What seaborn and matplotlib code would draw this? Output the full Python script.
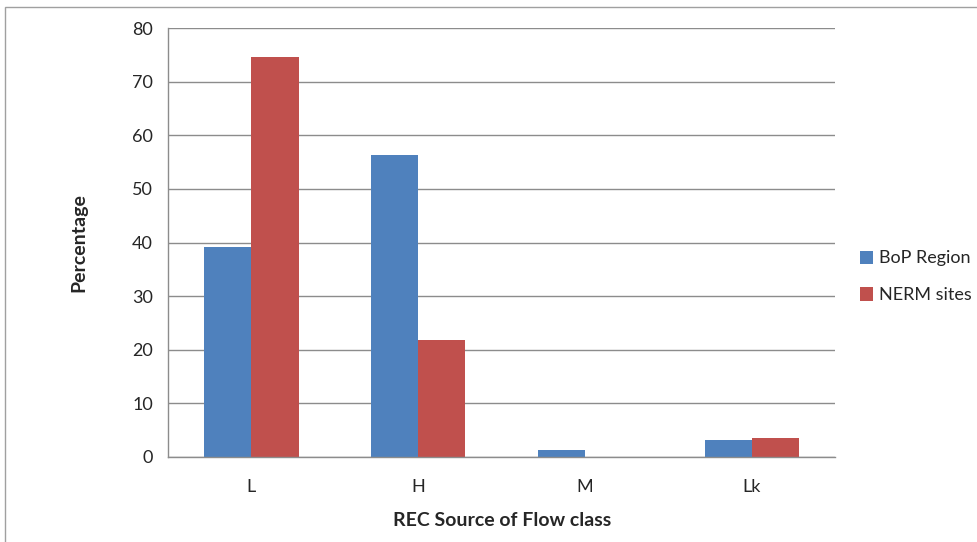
import matplotlib
matplotlib.use("Agg")
import matplotlib.pyplot as plt
import seaborn as sns
import pandas as pd
from matplotlib.patches import Rectangle

categories = ["L", "H", "M", "Lk"]
bop_region = [39.2, 56.4, 1.3, 3.1]
nerm_sites = [74.6, 21.9, 0.0, 3.5]
series_names = ["BoP Region", "NERM sites"]
colors = ["#4F81BD", "#C0504D"]

df = pd.DataFrame({
    "cat": categories * 2,
    "val": bop_region + nerm_sites,
    "series": [series_names[0]] * 4 + [series_names[1]] * 4,
})

sns.set_style("white")
plt.rcParams["font.family"] = ["Lato", "DejaVu Sans"]

fig = plt.figure(figsize=(9.77, 5.42), dpi=100)
ax = fig.add_axes([0.172, 0.157, 0.683, 0.791])

sns.barplot(data=df, x="cat", y="val", hue="series", order=categories,
            hue_order=series_names, palette=colors, width=0.565,
            saturation=1, ax=ax, legend=True, linewidth=0, edgecolor="none")

ax.set_ylim(0, 80)
ax.set_xlim(-0.5, 3.5)
ax.set_yticks(range(0, 81, 10))
ax.yaxis.grid(True, color="#8c8c8c", linewidth=1)
ax.set_axisbelow(True)
for s in ["top", "right"]:
    ax.spines[s].set_visible(False)
for s in ["left", "bottom"]:
    ax.spines[s].set_color("#8c8c8c")
    ax.spines[s].set_linewidth(1)

ax.set_xticks(range(4))
ax.set_xticklabels(categories)
ax.set_xticks([-0.5, 0.5, 1.5, 2.5, 3.5], minor=True)
ax.tick_params(axis="x", which="major", length=0, pad=16, labelsize=13)
ax.tick_params(axis="x", which="minor", length=6, color="#8c8c8c", width=1, direction="out")
ax.tick_params(axis="y", length=5, color="#8c8c8c", width=1, direction="out", labelsize=13, pad=6)

ax.set_xlabel("REC Source of Flow class", fontsize=14, fontweight="bold", labelpad=12)
ax.set_ylabel("Percentage", fontsize=14, fontweight="bold", labelpad=32)

leg = ax.legend(loc="center left", bbox_to_anchor=(1.012, 0.42), frameon=False,
                fontsize=13, handlelength=0.75, handleheight=0.75,
                handletextpad=0.3, labelspacing=1.15)

fig.patches.append(Rectangle((0.005, -0.01), 1.0, 0.998, transform=fig.transFigure,
                             fill=False, edgecolor="#a0a0a0", linewidth=1))

fig.savefig("out.png", dpi=100)
